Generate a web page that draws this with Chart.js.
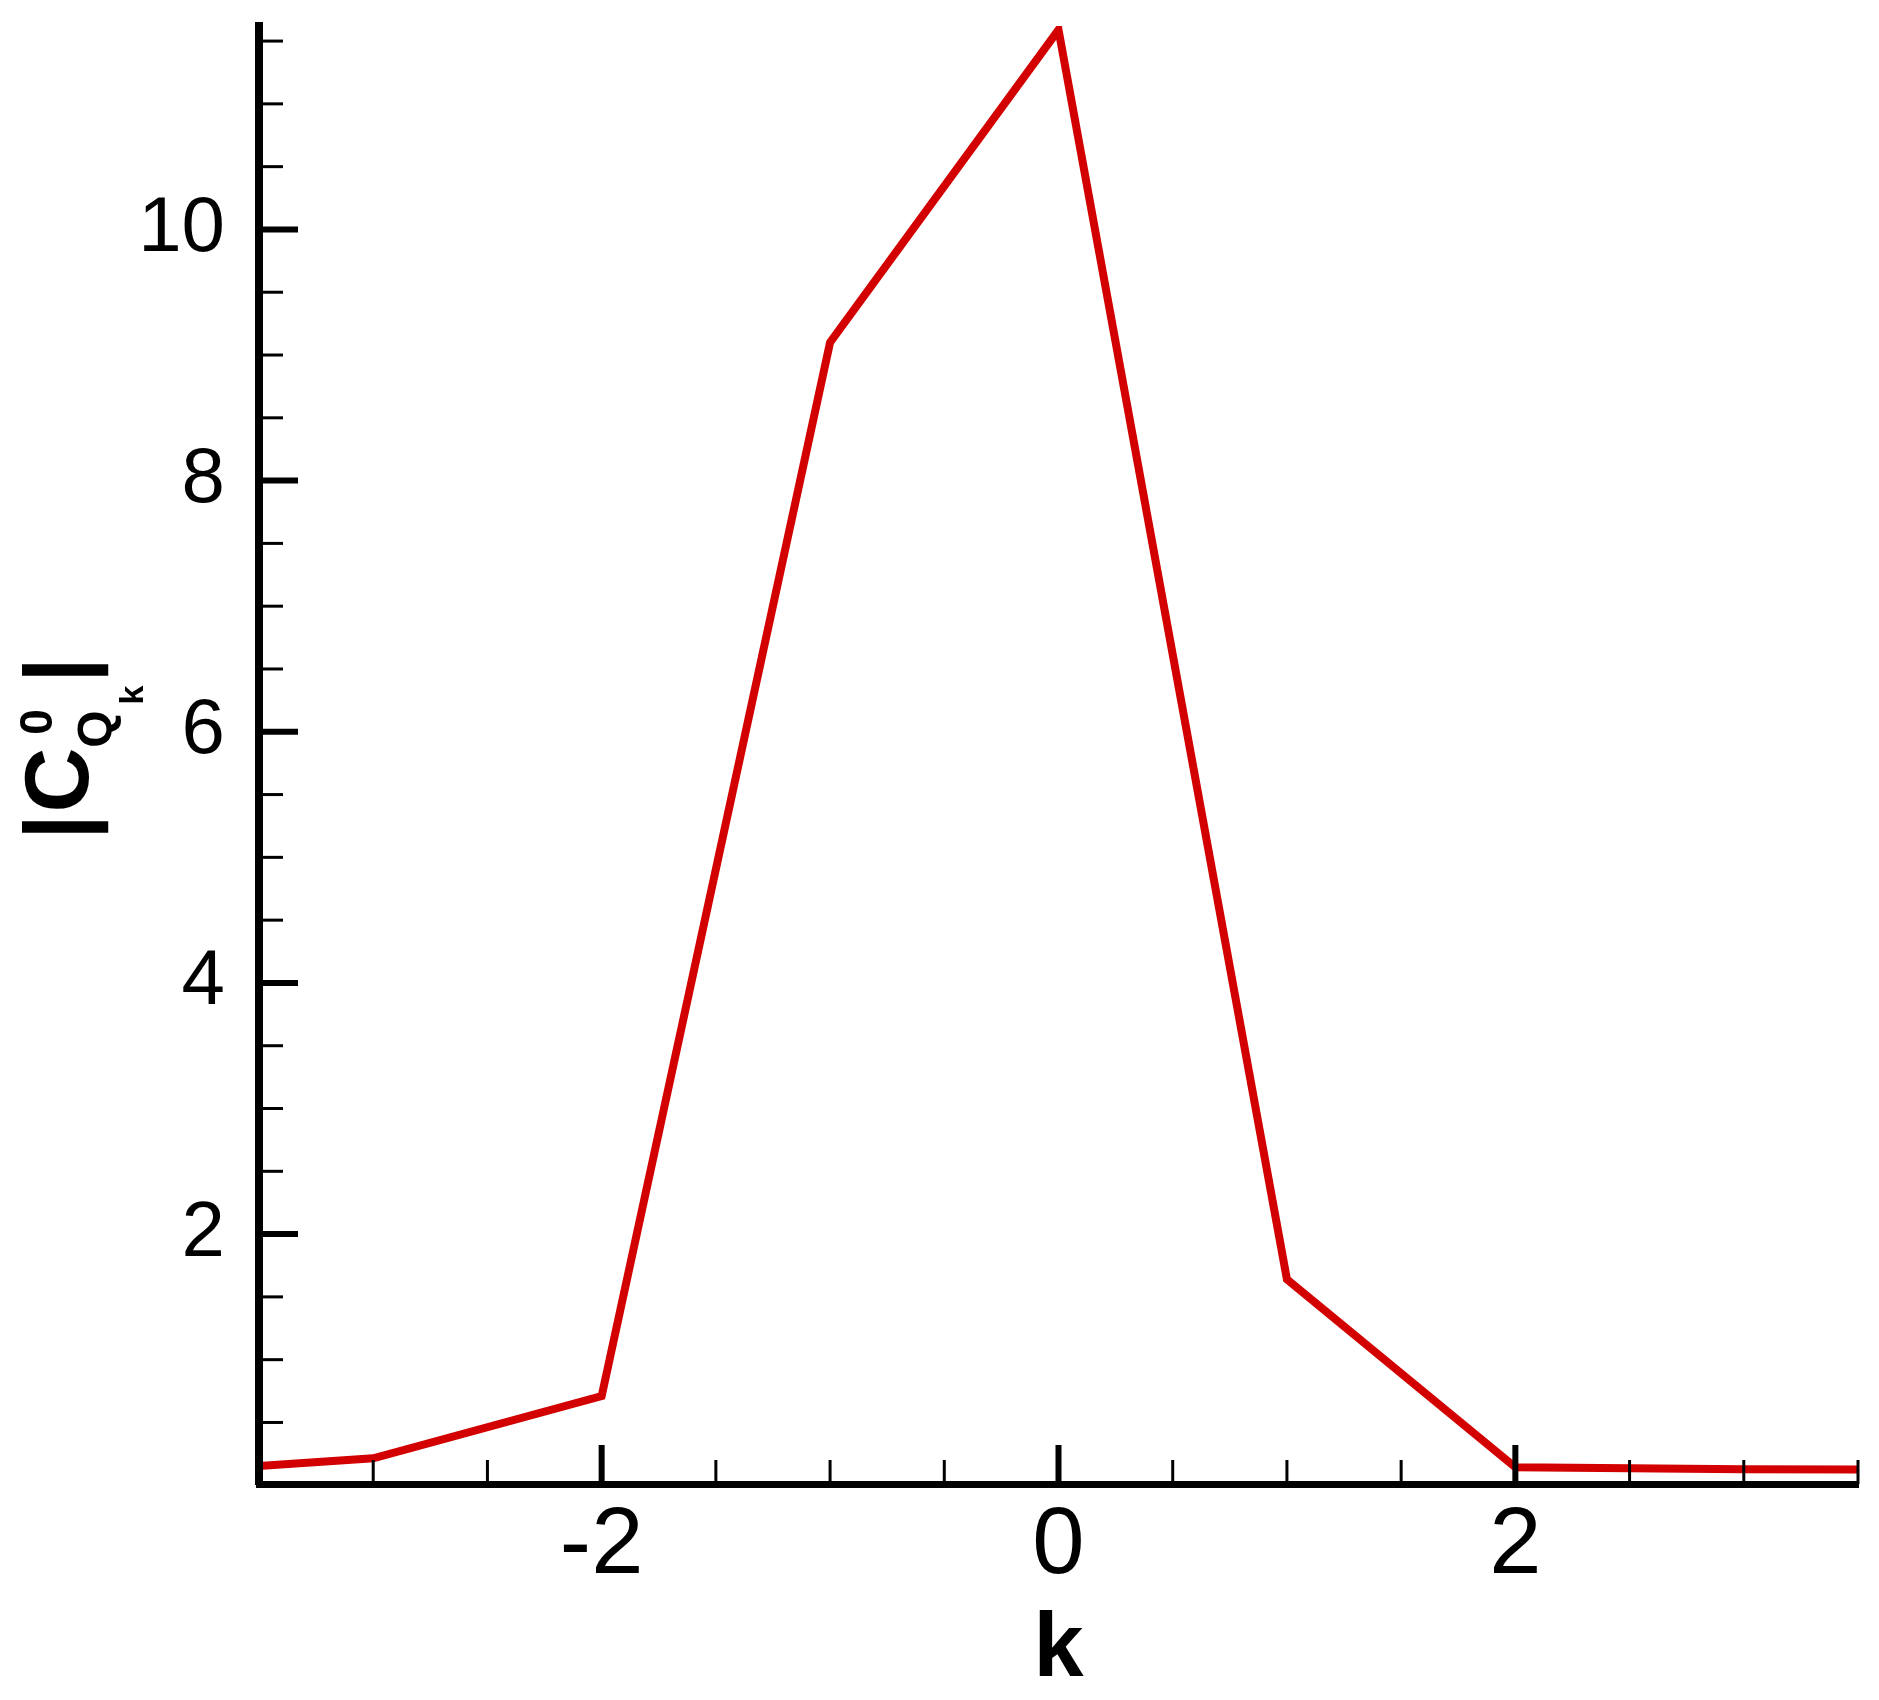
<!DOCTYPE html>
<html>
<head>
<meta charset="utf-8">
<title>|C0Qk| vs k</title>
<script src="https://cdn.jsdelivr.net/npm/chart.js@4.4.1/dist/chart.umd.min.js"></script>
<style>
  html, body { margin: 0; padding: 0; background: #fff; }
  #wrap { width: 1879px; height: 1700px; }
</style>
</head>
<body>
<div id="wrap"><canvas id="chart" width="1879" height="1700"></canvas></div>
<script>
// values
const kValues = [-4, -3, -2, -1, 0, 1, 2, 3, 4];
const cqValues = [0.09, 0.215, 0.71, 9.10, 11.59, 1.64, 0.143, 0.127, 0.125];
const xTickValues = [-2, 0, 2];
const yTickValues = [2, 4, 6, 8, 10];
const minorStep = 0.5;

const FONT = "'Liberation Sans', Arial, Helvetica, sans-serif";
const LINE_RED = '#d20000';

// tecplot-style ticks pointing into the plot, long at labelled values
const innerTicks = {
  id: 'innerTicks',
  afterDraw(chart) {
    const { ctx, chartArea, scales: { x, y } } = chart;
    ctx.save();
    ctx.strokeStyle = '#000';
    const drawSet = (scale, majors, horizontal) => {
      const start = Math.ceil(scale.min / minorStep - 1e-9) * minorStep;
      for (let v = start; v <= scale.max + 1e-9; v += minorStep) {
        const val = Math.round(v * 100) / 100;
        const major = majors.includes(val);
        const len = major ? 39 : 24;
        ctx.lineWidth = major ? 6 : 3;
        const p = scale.getPixelForValue(val);
        ctx.beginPath();
        if (horizontal) {
          ctx.moveTo(p, chartArea.bottom);
          ctx.lineTo(p, chartArea.bottom - len);
        } else {
          ctx.moveTo(chartArea.left, p);
          ctx.lineTo(chartArea.left + len, p);
        }
        ctx.stroke();
      }
    };
    drawSet(x, xTickValues, true);
    drawSet(y, yTickValues, false);
    ctx.restore();
  }
};

// y title |C^0_{Q_k}| needs sub/superscripts, so draw it by hand
const yTitle = {
  id: 'yTitle',
  afterDraw(chart) {
    const { ctx, chartArea } = chart;
    const mid = (chartArea.top + chartArea.bottom) / 2;
    ctx.save();
    ctx.translate(88, mid + 77);
    ctx.rotate(-Math.PI / 2);
    ctx.fillStyle = '#000';
    ctx.textAlign = 'center';
    ctx.textBaseline = 'alphabetic';
    const parts = [
      ['|', 90, 5, 0],
      ['C', 90, 52, 0],
      ['0', 46, 110, -36],
      ['Q', 48, 103, 23],
      ['k', 34, 137, 55],
      ['|', 90, 162, 0],
    ];
    parts.forEach(([t, size, u, v]) => {
      ctx.font = `bold ${size}px ${FONT}`;
      ctx.fillText(t, u, v);
    });
    ctx.restore();
  }
};

new Chart(document.getElementById('chart'), {
  type: 'line',
  data: {
    datasets: [{
      data: kValues.map((k, i) => ({ x: k, y: cqValues[i] })),
      borderColor: LINE_RED,
      borderWidth: 8,
      pointRadius: 0,
      tension: 0,
      fill: false,
    }],
  },
  options: {
    responsive: false,
    animation: false,
    devicePixelRatio: 1,
    layout: { padding: { top: 26, right: 21, bottom: 0, left: 0 } },
    plugins: {
      legend: { display: false },
      tooltip: { enabled: false },
    },
    scales: {
      x: {
        type: 'linear',
        min: -3.5,
        max: 3.5,
        afterBuildTicks: (s) => { s.ticks = xTickValues.map(v => ({ value: v })); },
        afterFit: (s) => {
          s.height = 216;
          s.paddingLeft = 0;
          s.paddingRight = 0;
        },
        grid: { display: true, drawOnChartArea: false, drawTicks: false },
        border: { display: true, color: '#000', width: 7, z: 1 },
        ticks: {
          color: '#000',
          font: { family: FONT, size: 94 },
          padding: 7,
          maxRotation: 0,
          autoSkip: false,
        },
        title: {
          display: true,
          text: 'k',
          color: '#000',
          font: { family: FONT, size: 90, weight: 'bold', lineHeight: 1 },
          padding: { top: 0, bottom: 4 },
        },
      },
      y: {
        type: 'linear',
        min: 0.01,
        max: 11.62,
        afterBuildTicks: (s) => { s.ticks = yTickValues.map(v => ({ value: v })); },
        afterFit: (s) => {
          s.width = 259;
          s.paddingTop = 0;
          s.paddingBottom = 0;
        },
        grid: { display: true, drawOnChartArea: false, drawTicks: false },
        border: { display: true, color: '#000', width: 8, z: 1 },
        ticks: {
          color: '#000',
          font: { family: FONT, size: 78 },
          padding: 34,
          autoSkip: false,
        },
      },
    },
  },
  plugins: [innerTicks, yTitle],
});
</script>
</body>
</html>
